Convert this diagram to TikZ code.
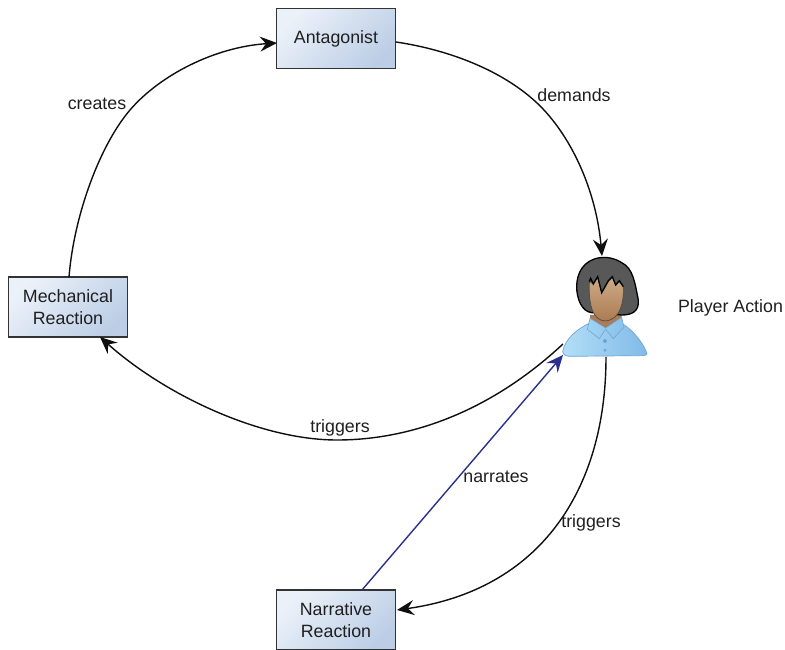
\documentclass[tikz,border=0pt]{standalone}
\usepackage{fontspec}
\setmainfont{Liberation Sans}
\usetikzlibrary{arrows.meta}
\definecolor{boxlight}{RGB}{235,241,249}
\definecolor{boxdark}{RGB}{188,206,230}
\definecolor{linecol}{RGB}{15,15,15}
\definecolor{navyline}{RGB}{42,48,140}
\definecolor{bodylight}{RGB}{178,222,247}
\definecolor{bodydark}{RGB}{130,186,232}
\definecolor{bodyedge}{RGB}{110,165,215}
\definecolor{collarlight}{RGB}{160,212,243}
\definecolor{collardark}{RGB}{138,192,234}
\definecolor{facelight}{RGB}{205,170,135}
\definecolor{facedark}{RGB}{172,124,82}
\definecolor{hairgrey}{RGB}{88,88,88}
\tikzset{
 x=1pt,y=-1pt,
 boxnode/.style={draw=black!80,line width=1.3pt,minimum width=119pt,minimum height=60pt,align=center,inner sep=0pt,
   top color=boxlight,bottom color=boxdark,shading angle=45,font=\fontsize{17.8}{22.5}\selectfont,text=black!88},
 labelnode/.style={font=\fontsize{17.8}{20}\selectfont,inner sep=0pt,text=black!88},
 conn/.style={draw=linecol,line width=1.4pt,-{Stealth[length=17pt,width=15pt,inset=6pt]}},
 narr/.style={draw=navyline,line width=1.4pt,-{Stealth[length=17pt,width=15pt,inset=6pt]}},
}
\begin{document}
\begin{tikzpicture}
\useasboundingbox (0,0) rectangle (785,650);
\node[boxnode] (ant) at (336,38.5) {Antagonist};
\node[boxnode] (mech) at (68,307) {Mechanical\\Reaction};
\node[boxnode] (narr) at (336,620) {Narrative\\Reaction};
% avatar
\begin{scope}[shift={(550,240)},x=0.3333pt,y=-0.3333pt]
 \shade[left color=bodylight,right color=bodydark,draw=bodyedge,line width=0.7pt]
  (38,335) .. controls (45,295) and (85,265) .. (118,250) -- (165,232) -- (215,250)
  .. controls (250,270) and (280,310) .. (291,340) .. controls (290,347) and (280,347) .. (270,347)
  -- (60,349) .. controls (48,349) and (40,345) .. (38,335) -- cycle;
 \fill[facedark] (120,225) -- (215,225) -- (215,240) -- (167,266) -- (120,240) -- cycle;
 \shade[left color=collarlight,right color=collardark,draw=bodyedge,line width=0.6pt]
  (120,235) -- (112,268) -- (148,296) -- (167,268) -- (190,296) -- (222,262) -- (215,232) -- (167,264) -- cycle;
 \fill[bodyedge] (165,303) circle (6);
 \fill[bodyedge] (165,331) circle (5);
 \fill[hairgrey,draw=black,line width=1.3pt]
  (150,53) .. controls (100,60) and (80,100) .. (80,140) .. controls (80,175) and (95,215) .. (125,218)
  -- (215,225) .. controls (245,225) and (268,215) .. (265,180)
  .. controls (255,130) and (250,85) .. (215,68) .. controls (195,55) and (170,50) .. (150,53) -- cycle;
 \shade[top color=facelight,bottom color=facedark,draw=black!70,line width=0.7pt]
  (118,125) -- (130,132) -- (143,112) -- (155,158) -- (175,125) -- (187,112) -- (197,135) -- (208,125)
  -- (220,140) .. controls (222,190) and (210,240) .. (165,243) .. controls (130,240) and (115,200) .. (118,125) -- cycle;
 \draw[black,line width=1.3pt] (118,125) -- (122,115) -- (130,132) -- (143,110) -- (155,158) -- (175,122) -- (187,110) -- (197,135) -- (208,122) -- (220,140);
 \coordinate (playerN) at (156,48);
 \coordinate (playerSW) at (39,312);
 \coordinate (playerTip) at (39,345);
 \coordinate (playerS) at (168,351);
\end{scope}
\node[labelnode,anchor=center] (playerlabel) at (730.5,308) {Player Action};
% connectors
\coordinate (antE) at (396,42);
\coordinate (antW) at (277,43);
\coordinate (mechN) at (69,277);
\coordinate (mechSE) at (100,337);
\coordinate (narrE) at (397,610);
\coordinate (narrN) at (362,590);
\draw[conn] (antE) .. controls (450,50) and (503,71) .. (537,103) .. controls (571,135) and (596,190) .. (playerN);
\draw[conn] (mechN) .. controls (74,215) and (100,145) .. (130,110) .. controls (160,75) and (215,47) .. (antW);
\draw[conn] (playerSW) .. controls (490,412) and (410,440) .. (337,440) .. controls (260,440) and (165,395) .. (mechSE);
\draw[conn] (playerS) .. controls (606,490) and (540,590) .. (narrE);
\draw[narr] (narrN) -- (playerTip);
\node[labelnode] (l1) at (97,104) {creates};
\node[labelnode] (l2) at (574,95) {demands};
\node[labelnode] (l3) at (340,428) {triggers};
\node[labelnode] (l4) at (496,477) {narrates};
\node[labelnode] (l5) at (591,523) {triggers};
\end{tikzpicture}
\end{document}
